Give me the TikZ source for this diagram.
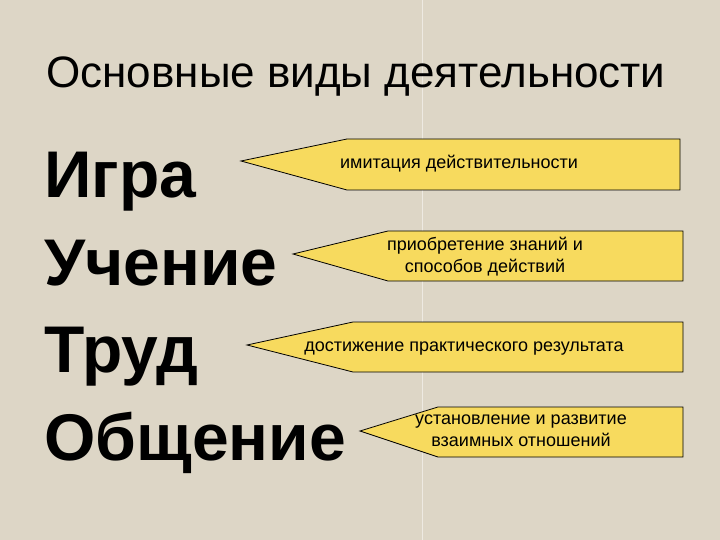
\documentclass[tikz,border=0pt]{standalone}
\usepackage{fontspec}
\setmainfont{Liberation Sans}
\definecolor{bg}{HTML}{DDD6C6}
\definecolor{callout}{HTML}{F7DA5E}
\begin{document}
\begin{tikzpicture}[x=1pt,y=-1pt,
  callbox/.style={draw=black,line width=0.8pt,fill=callout},
  calltext/.style={font=\fontsize{18}{22}\selectfont,align=center,inner sep=0pt},
  mainword/.style={font=\bfseries\fontsize{66}{72}\selectfont,anchor=base west,inner sep=0pt}]
\fill[bg] (0,0) rectangle (720,540);
\useasboundingbox (0,0) rectangle (720,540);
\draw[white,opacity=0.5,line width=0.8pt] (422,0) -- (422,540);
\node[anchor=base,inner sep=0pt,font=\fontsize{44}{50}\selectfont] (title) at (356,88) {Основные виды деятельности};
\node[mainword] (w1) at (44,197) {Игра};
\node[mainword] (w2) at (44,285) {Учение};
\node[mainword] (w3) at (44,372) {Труд};
\node[mainword] (w4) at (44,460) {Общение};
\draw[callbox] (241,161) -- (347,139) -- (680,139) -- (680,190) -- (347,190) -- cycle;
\draw[callbox] (293,254) -- (388,231) -- (683,231) -- (683,281) -- (388,281) -- cycle;
\draw[callbox] (247,345) -- (353,322) -- (683,322) -- (683,372) -- (353,372) -- cycle;
\draw[callbox] (360,431) -- (438,407) -- (683,407) -- (683,457) -- (438,457) -- cycle;
\node[calltext] (c1) at (459,164) {имитация действительности};
\node[calltext] (c2) at (485,257) {приобретение знаний и\\способов действий};
\node[calltext] (c3) at (464,349) {достижение практического результата};
\node[calltext] (c4) at (521,431) {установление и развитие\\взаимных отношений};
\end{tikzpicture}
\end{document}
